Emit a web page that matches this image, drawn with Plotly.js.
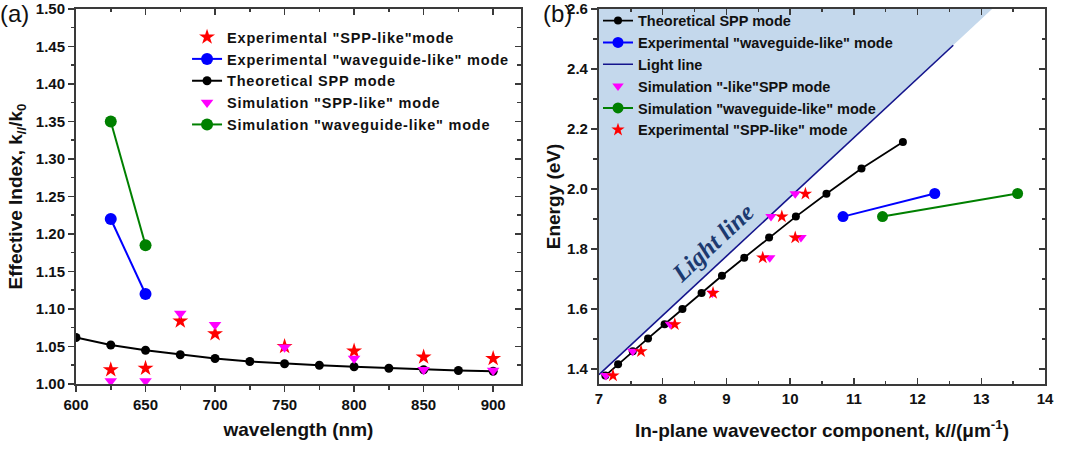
<!DOCTYPE html>
<html>
<head>
<meta charset="utf-8">
<script src="https://cdn.plot.ly/plotly-3.0.1.min.js"></script>
<style>
html,body{margin:0;padding:0;background:#fff;}
#chart .legendtext{letter-spacing:0.8px;}
#chart .legend .scrollbox{clip-path:none !important;}
</style>
</head>
<body>
<div id="chart" style="width:1086px;height:450px;"></div>
<script>
// ---------- Panel (a): effective index vs wavelength ----------
const wavelength = [600,625,650,675,700,725,750,775,800,825,850,875,900];
const theoryIndex = [1.062,1.052,1.045,1.039,1.034,1.030,1.027,1.025,1.023,1.021,1.019,1.018,1.017];
const expSppWl = [625,650,675,700,750,800,850,900];
const expSppIndex = [1.019,1.021,1.084,1.067,1.050,1.044,1.036,1.034];
const simSppWl = [625,650,675,700,750,800,850,900];
const simSppIndex = [1.004,1.004,1.094,1.079,1.049,1.034,1.019,1.018];
const expWgWl = [625,650];
const expWgIndex = [1.22,1.12];
const simWgWl = [625,650];
const simWgIndex = [1.35,1.185];

// ---------- Panel (b): energy vs in-plane wavevector ----------
const theoryK = [7.10,7.30,7.53,7.77,8.03,8.31,8.61,8.93,9.28,9.67,10.09,10.57,11.12,11.77];
const theoryE = [1.378,1.416,1.459,1.502,1.549,1.600,1.653,1.711,1.771,1.838,1.908,1.984,2.068,2.157];
const expWgK = [10.83,12.27];
const expWgE = [1.908,1.985];
const simWgK = [11.45,13.57];
const simWgE = [1.908,1.985];
const lightK = [7.0,12.56];
const lightE = [1.381,2.479];
const shadeK = [7.0,13.17,7.0];
const shadeE = [1.381,2.6,2.6];
const simSppK = [7.11,7.53,8.12,8.78,9.68,10.17,9.70,10.08];
const simSppE = [1.378,1.459,1.549,1.653,1.771,1.838,1.908,1.984];
const expSppK = [7.22,7.66,8.19,8.79,9.57,10.08,9.87,10.24];
const expSppE = [1.378,1.459,1.549,1.653,1.771,1.838,1.908,1.984];

const FONT = "Arial, 'Liberation Sans', sans-serif";
const AX = '#3a3a3a';
const RED = '#ff0000', BLUE = '#0000ff', GREEN = '#008000', MAG = '#ff00ff', NAVY = '#14148c';

const traces = [
  // panel (a)
  {x: expSppWl, y: expSppIndex, xaxis:'x', yaxis:'y', mode:'markers', name:'Experimental "SPP-like"mode',
   marker:{symbol:'star', size:12, color:RED}, legend:'legend'},
  {x: expWgWl, y: expWgIndex, xaxis:'x', yaxis:'y', mode:'lines+markers', name:'Experimental "waveguide-like" mode',
   marker:{symbol:'circle', size:12, color:BLUE}, line:{color:BLUE, width:2}, legend:'legend'},
  {x: wavelength, y: theoryIndex, xaxis:'x', yaxis:'y', mode:'lines+markers', name:'Theoretical SPP mode',
   marker:{symbol:'circle', size:9, color:'#000'}, line:{color:'#000', width:2}, legend:'legend'},
  {x: simSppWl, y: simSppIndex, xaxis:'x', yaxis:'y', mode:'markers', name:'Simulation "SPP-like" mode',
   marker:{symbol:'triangle-down', size:11, color:MAG}, legend:'legend'},
  {x: simWgWl, y: simWgIndex, xaxis:'x', yaxis:'y', mode:'lines+markers', name:'Simulation "waveguide-like" mode',
   marker:{symbol:'circle', size:12, color:GREEN}, line:{color:GREEN, width:2}, legend:'legend'},
  // panel (b)
  {x: shadeK, y: shadeE, xaxis:'x2', yaxis:'y2', mode:'lines', fill:'toself', fillcolor:'#c4d8ec',
   line:{width:0, color:'rgba(0,0,0,0)'}, showlegend:false, hoverinfo:'skip'},
  {x: theoryK, y: theoryE, xaxis:'x2', yaxis:'y2', mode:'lines+markers', name:'Theoretical SPP mode',
   marker:{symbol:'circle', size:8, color:'#000'}, line:{color:'#000', width:1.8}, legend:'legend2'},
  {x: expWgK, y: expWgE, xaxis:'x2', yaxis:'y2', mode:'lines+markers', name:'Experimental "waveguide-like" mode',
   marker:{symbol:'circle', size:11, color:BLUE}, line:{color:BLUE, width:2}, legend:'legend2'},
  {x: lightK, y: lightE, xaxis:'x2', yaxis:'y2', mode:'lines', name:'Light line',
   line:{color:NAVY, width:1.6}, legend:'legend2'},
  {x: simSppK, y: simSppE, xaxis:'x2', yaxis:'y2', mode:'markers', name:'Simulation "-like"SPP mode',
   marker:{symbol:'triangle-down', size:10, color:MAG}, legend:'legend2'},
  {x: simWgK, y: simWgE, xaxis:'x2', yaxis:'y2', mode:'lines+markers', name:'Simulation "waveguide-like" mode',
   marker:{symbol:'circle', size:11, color:GREEN}, line:{color:GREEN, width:2}, legend:'legend2'},
  {x: expSppK, y: expSppE, xaxis:'x2', yaxis:'y2', mode:'markers', name:'Experimental "SPP-like" mode',
   marker:{symbol:'star', size:10, color:RED}, legend:'legend2'},
  // empty traces to host the inner-tick overlay axes
  {x: [], y: [], xaxis:'x3', yaxis:'y3', mode:'markers', showlegend:false, hoverinfo:'skip'},
  {x: [], y: [], xaxis:'x4', yaxis:'y4', mode:'markers', showlegend:false, hoverinfo:'skip'}
];

const tickFont = {family:FONT, size:15, color:'#111', weight:'bold'};
function frameAxis(extra){
  return Object.assign({showline:true, linecolor:AX, linewidth:2, mirror:true, showgrid:false, zeroline:false,
    ticklen:6, tickwidth:1.5, tickcolor:AX, tickfont:tickFont, fixedrange:true}, extra);
}
function overlayAxis(extra){
  return Object.assign({showline:false, showgrid:false, zeroline:false, showticklabels:false,
    ticks:'inside', ticklen:6, tickwidth:1.5, tickcolor:AX, fixedrange:true}, extra);
}
const titleFont = {family:FONT, size:19, weight:'bold', color:'#111'};
const legFont = {family:FONT, size:14.5, weight:'bold', color:'#111'};
const YDOM = [0, 0.9766];

const layout = {
  width:1086, height:450,
  margin:{l:76, r:41, t:0, b:66},
  paper_bgcolor:'#fff', plot_bgcolor:'rgba(0,0,0,0)',
  showlegend:true,
  font:{family:FONT, color:'#111'},
  xaxis: frameAxis({domain:[0,0.4592], anchor:'y', range:[600,920], tick0:600, dtick:50, ticks:'outside',
    minor:{dtick:25, ticks:'outside', ticklen:3.5, tickwidth:1.5, tickcolor:AX},
    title:{text:'wavelength (nm)', font:titleFont, standoff:11}}),
  yaxis: frameAxis({domain:YDOM, anchor:'x', range:[1.0,1.5], tick0:1.0, dtick:0.05, tickformat:'.2f', ticks:'outside',
    minor:{dtick:0.025, ticks:'outside', ticklen:3.5, tickwidth:1.5, tickcolor:AX},
    title:{text:'Effective Index, k<sub>//</sub>/k<sub>0</sub>', font:titleFont, standoff:8}}),
  xaxis3: overlayAxis({overlaying:'x', side:'top', anchor:'y3', range:[600,920], tick0:600, dtick:50,
    minor:{dtick:25, ticks:'inside', ticklen:3.5, tickwidth:1.5, tickcolor:AX}}),
  yaxis3: overlayAxis({overlaying:'y', side:'right', anchor:'x3', range:[1.0,1.5], tick0:1.0, dtick:0.05,
    minor:{dtick:0.025, ticks:'inside', ticklen:3.5, tickwidth:1.5, tickcolor:AX}}),
  xaxis2: frameAxis({domain:[0.5397,1.0], anchor:'y2', range:[7,14], tick0:7, dtick:1, ticks:'inside',
    minor:{dtick:0.5, ticks:'inside', ticklen:3.5, tickwidth:1.5, tickcolor:AX},
    title:{text:'In-plane wavevector component, k//(μm<sup>-1</sup>)', font:titleFont, standoff:18}}),
  yaxis2: frameAxis({domain:YDOM, anchor:'x2', range:[1.35,2.6], tick0:1.4, dtick:0.2, tickformat:'.1f', ticks:'outside',
    minor:{dtick:0.1, tick0:1.3, ticks:'outside', ticklen:3.5, tickwidth:1.5, tickcolor:AX},
    title:{text:'Energy (eV)', font:titleFont, standoff:1}}),
  xaxis4: overlayAxis({overlaying:'x2', side:'top', anchor:'y4', range:[7,14], tick0:7, dtick:1,
    minor:{dtick:0.5, ticks:'inside', ticklen:3.5, tickwidth:1.5, tickcolor:AX}}),
  yaxis4: overlayAxis({overlaying:'y2', side:'right', anchor:'x4', range:[1.35,2.6], tick0:1.4, dtick:0.2,
    minor:{dtick:0.1, tick0:1.3, ticks:'inside', ticklen:3.5, tickwidth:1.5, tickcolor:AX}}),
  legend:{x:0.1146, y:0.945, xanchor:'left', yanchor:'top', bgcolor:'rgba(0,0,0,0)', borderwidth:0,
    font:legFont, tracegroupgap:0},
  legend2:{x:0.5387, y:0.988, xanchor:'left', yanchor:'top', bgcolor:'rgba(0,0,0,0)', borderwidth:0,
    font:legFont, tracegroupgap:0},
  annotations:[
    {text:'(a)', xref:'paper', yref:'paper', x:-0.063, y:0.964, xanchor:'center', yanchor:'middle', showarrow:false,
     font:{family:FONT, size:24, color:'#111'}},
    {text:'(b)', xref:'paper', yref:'paper', x:0.4964, y:0.964, xanchor:'center', yanchor:'middle', showarrow:false,
     font:{family:FONT, size:24, color:'#111'}},
    {text:'<b><i>Light line</i></b>', xref:'x2', yref:'y2', x:8.79, y:1.82, textangle:-43, showarrow:false,
     xanchor:'center', yanchor:'middle', font:{family:"'Times New Roman', 'Liberation Serif', serif", size:25, color:'#1c3a70'}}
  ]
};

Plotly.newPlot('chart', traces, layout, {displayModeBar:false, staticPlot:true});
</script>
</body>
</html>
